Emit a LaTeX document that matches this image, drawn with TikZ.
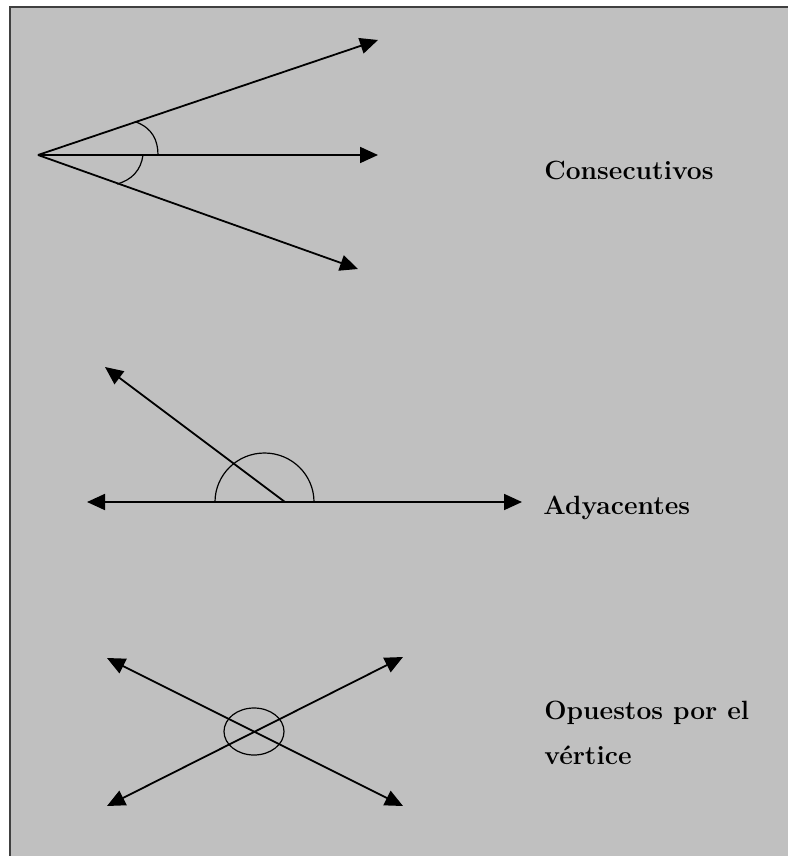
\documentclass[tikz,border=0pt]{standalone}
\usepackage{tikz}
\usetikzlibrary{positioning,arrows.meta}
\definecolor{panelgray}{RGB}{192,192,192}

\begin{document}
\begin{tikzpicture}[
    x=0.5pt, y=-0.5pt,
    every node/.style={font=\fontsize{13.2}{15}\selectfont\bfseries, inner sep=0pt, anchor=base west},
    ray/.style={draw, line width=0.9pt, -{Triangle[length=9pt, width=8pt]}},
    twoway/.style={draw, line width=0.9pt, {Triangle[length=9pt, width=8pt]}-{Triangle[length=9pt, width=8pt]}},
    mark arc/.style={draw, line width=0.6pt}]
  \useasboundingbox (0,0) rectangle (788,856);
  % fondo
  \fill[panelgray] (10,7) rectangle (788,856);
  \draw[black!75, line width=1pt] (10,856) -- (10,7) -- (788,7);
  % consecutivos
  \coordinate (o1) at (38,155);
  \coordinate (a1) at (378,40);
  \coordinate (b1) at (378,155);
  \coordinate (c1) at (358,269);
  \draw[ray] (o1) -- (a1);
  \draw[ray] (o1) -- (b1);
  \draw[ray] (o1) -- (c1);
  \draw[mark arc] (136,122) .. controls (152,128) and (158,140) .. (158,155);
  \draw[mark arc] (143,155) .. controls (141,170) and (132,180) .. (117,184);
  \node (consec) at (544,179) {Consecutivos};
  % adyacentes
  \coordinate (l2) at (87,502);
  \coordinate (r2) at (522,502);
  \coordinate (o2) at (285,502);
  \coordinate (t2) at (105,367);
  \draw[twoway] (l2) -- (r2);
  \draw[ray] (o2) -- (t2);
  \draw[mark arc] (215,502) arc[start angle=180, end angle=360, x radius=49.5, y radius=49];
  \node (adyac) at (543,514) {Adyacentes};
  % opuestos por el vertice
  \coordinate (ul3) at (107,658);
  \coordinate (lr3) at (403,806);
  \coordinate (ur3) at (403,657);
  \coordinate (ll3) at (107,806);
  \draw[twoway] (ul3) -- (lr3);
  \draw[twoway] (ur3) -- (ll3);
  \draw[mark arc] (254,731.5) ellipse[x radius=30, y radius=23.5];
  \node (opuestos) at (544,719) {Opuestos por el};
  \node (vertice) at (544,764) {vértice};
\end{tikzpicture}
\end{document}
